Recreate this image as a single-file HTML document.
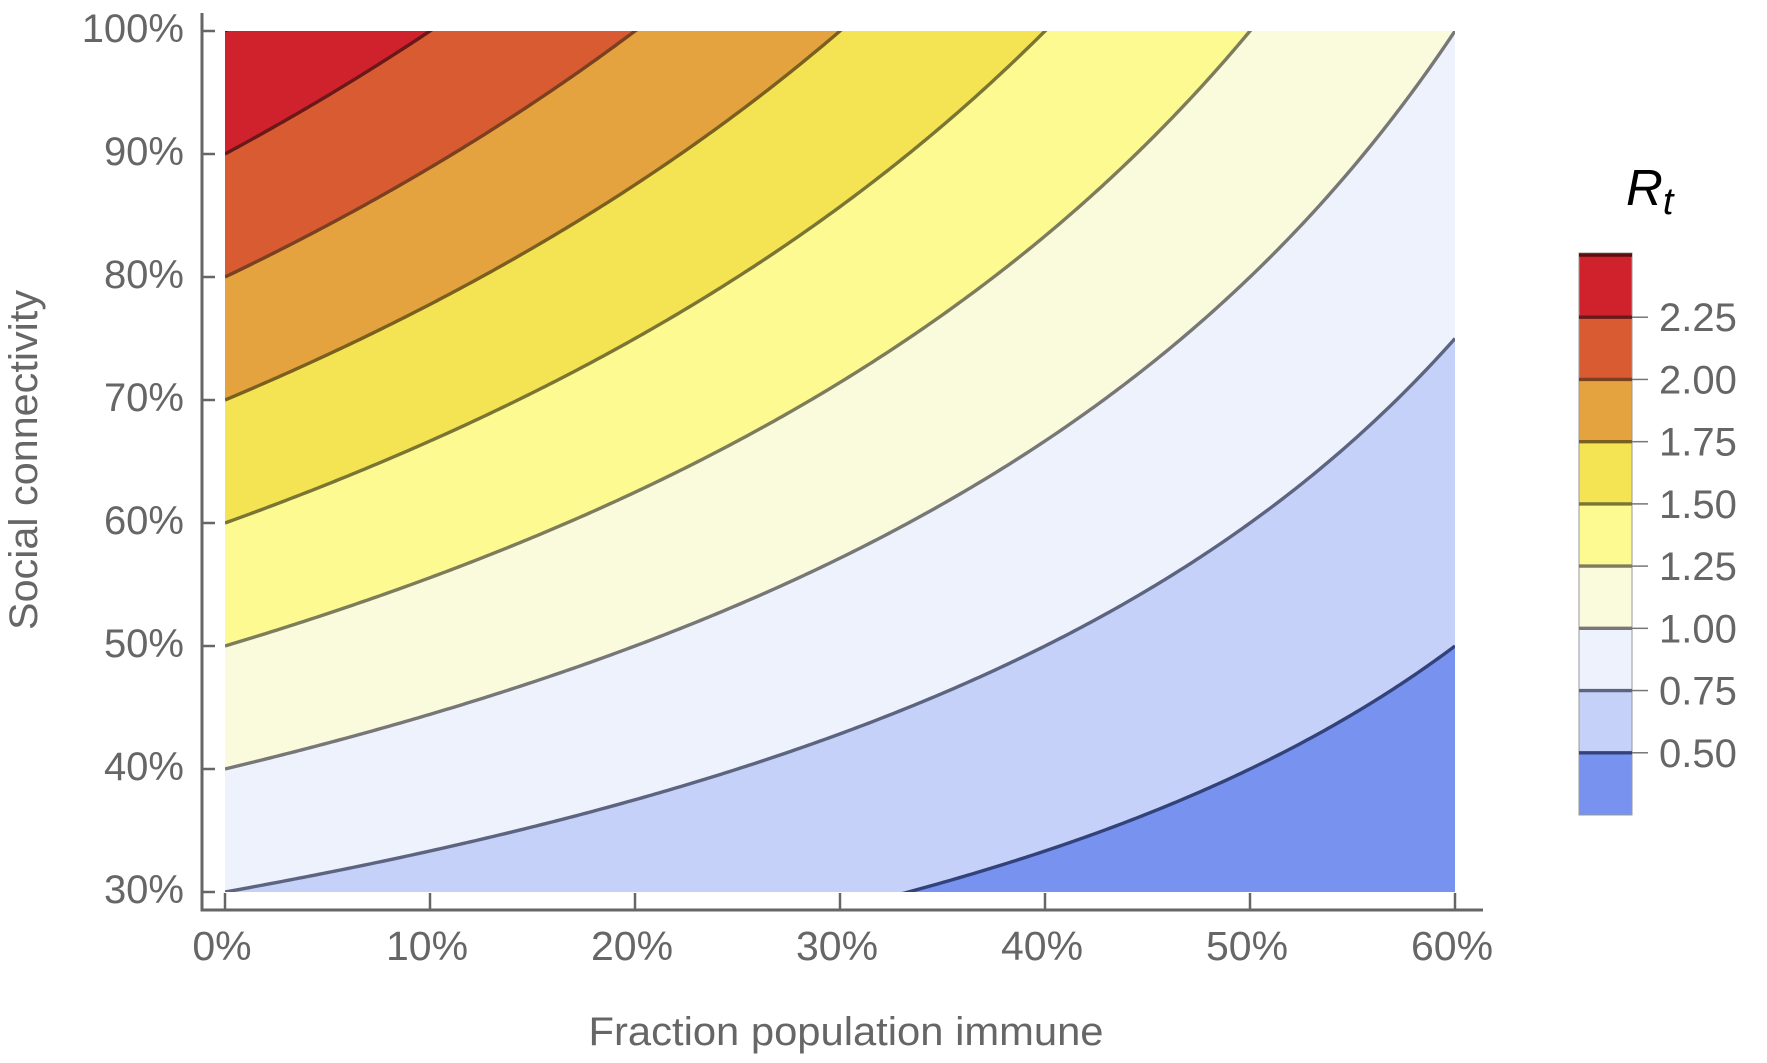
<!DOCTYPE html>
<html><head><meta charset="utf-8"><style>
html,body{margin:0;padding:0;background:#fff;}
svg{display:block;}
text{font-family:"Liberation Sans",sans-serif;fill:#666;}
</style></head><body>
<svg id="chart" width="1767" height="1063" viewBox="0 0 1767 1063" xmlns="http://www.w3.org/2000/svg">
<defs><clipPath id="pc"><rect x="225" y="31" width="1230" height="861"/></clipPath></defs>
<g id="plot" clip-path="url(#pc)"></g>
<g id="axes"></g>
<g id="cbar"></g>
<text x="846" y="1045" font-size="40" text-anchor="middle" textLength="515" lengthAdjust="spacingAndGlyphs">Fraction population immune</text>
<text transform="translate(37,460) rotate(-90)" font-size="40" text-anchor="middle" textLength="340" lengthAdjust="spacingAndGlyphs">Social connectivity</text>
<text x="1626" y="205" font-size="51" font-style="italic" style="fill:#000">R<tspan font-size="38" dy="9">t</tspan></text>
</svg>
<script>
const R0 = 2.5;
const levels = [0.5, 0.75, 1.0, 1.25, 1.5, 1.75, 2.0, 2.25, 2.5];
const bandColors = ["#7893ef","#c5d1f8","#eef2fc","#fafadc","#fcfa90","#f4e352","#e4a33e","#d95b32","#d0222d"];
const lineColors = ["#33437a","#5c6480","#777777","#7d7c5c","#7a7535","#7a6020","#7a4020","#6a1818","#5a1010"];
const xTicks = [0,0.1,0.2,0.3,0.4,0.5,0.6];
const yTicks = [0.3,0.4,0.5,0.6,0.7,0.8,0.9,1.0];
const cbarTicks = [2.25,2.0,1.75,1.5,1.25,1.0,0.75,0.5];
const NS="http://www.w3.org/2000/svg";
const X=f=>225+(f/0.6)*1230;
const Y=s=>892-(s-0.3)/0.7*861;
function mk(tag,attrs,parent){const e=document.createElementNS(NS,tag);for(const k in attrs)e.setAttribute(k,attrs[k]);parent.appendChild(e);return e;}
const plot=document.getElementById('plot');
const bg=mk('rect',{x:225,y:31,width:1230,height:861,fill:bandColors[0]},plot);


function curve(L){const pts=[];for(let i=0;i<=300;i++){const f=0.6*i/300;let s=L/(R0*(1-f));s=Math.max(0.29,Math.min(1.01,s));pts.push([X(f),Y(s)]);}return pts;}
levels.forEach((L,i)=>{
  const pts=curve(L);
  const d='M'+pts.map(p=>p[0].toFixed(2)+','+p[1].toFixed(2)).join('L')+'L'+X(0.6)+','+Y(1.05)+'L'+X(0)+','+Y(1.05)+'Z';
  const p=mk('path',{d:d,fill:bandColors[i+1]||bandColors[8]},plot);
  
  
});
levels.forEach((L,i)=>{
  const pts=curve(L);
  const d='M'+pts.map(p=>p[0].toFixed(2)+','+p[1].toFixed(2)).join('L');
  const p=mk('path',{d:d,fill:'none',stroke:lineColors[i],'stroke-width':3.4},plot);
  
  
});
const ax=document.getElementById('axes');
const a1=mk('path',{d:'M202,13V910H1483',fill:'none',stroke:'#666','stroke-width':3},ax);


xTicks.forEach(t=>{
  const l=mk('line',{x1:X(t),x2:X(t),y1:910,y2:893,stroke:'#666','stroke-width':2.5},ax);
  
  
  const tx=mk('text',{x:X(t)-3,y:960,'font-size':41,'text-anchor':'middle'},ax);
  tx.textContent=Math.round(t*100)+'%';
  
  
});
yTicks.forEach(t=>{
  const l=mk('line',{x1:202,x2:215,y1:Y(t),y2:Y(t),stroke:'#666','stroke-width':2.5},ax);
  
  
  const tx=mk('text',{x:184,y:Y(t)+11,'font-size':40,'text-anchor':'end'},ax);
  tx.textContent=Math.round(t*100)+'%';
  
  
});
const cb=document.getElementById('cbar');
const CY=v=>815-(v-0.25)/2.25*560;
for(let i=0;i<bandColors.length;i++){
  const lo=i===0?0.25:levels[i-1], hi=levels[i]||2.5;
  const r=mk('rect',{x:1579,y:CY(hi),width:53,height:CY(lo)-CY(hi),fill:bandColors[i]},cb);
  
  
}
const fr=mk('rect',{x:1579,y:CY(2.5)-2,width:53,height:CY(0.25)-CY(2.5)+2,fill:'none',stroke:'#999','stroke-width':1},cb);


levels.forEach((L,i)=>{
  const l=mk('line',{x1:1579,x2:1632,y1:CY(L),y2:CY(L),stroke:lineColors[i],'stroke-width':3.4},cb);
  
  
});
cbarTicks.forEach(t=>{
  const l=mk('line',{x1:1632,x2:1648,y1:CY(t),y2:CY(t),stroke:'#777','stroke-width':1.5},cb);
  
  
  const tx=mk('text',{x:1659,y:CY(t)+14,'font-size':40},cb);
  tx.textContent=t.toFixed(2);
  
  
});
</script>
</body></html>
